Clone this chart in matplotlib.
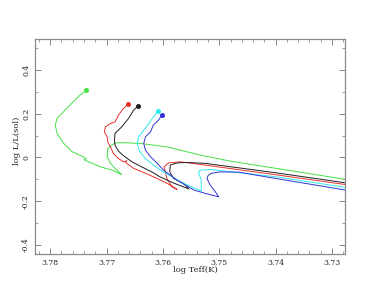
import matplotlib
matplotlib.use("Agg")
import matplotlib.pyplot as plt
from matplotlib.ticker import MultipleLocator, FixedLocator

# ---------------- data (log Teff, log L/Lsun) ----------------
green_x = [3.7736, 3.7747, 3.7768, 3.7788, 3.7791, 3.7788, 3.7776, 3.7761, 3.7744, 3.7736,
           3.7740, 3.7732, 3.7711, 3.7690, 3.7673, 3.7685, 3.7693, 3.7699, 3.7698, 3.7690,
           3.7682, 3.7667, 3.7640, 3.7593, 3.7534, 3.7480, 3.7276, 3.7200]
green_y = [0.306, 0.285, 0.231, 0.178, 0.148, 0.110, 0.064, 0.026, 0.006, -0.005,
           -0.010, -0.020, -0.043, -0.058, -0.078, -0.050, -0.027, 0.003, 0.041, 0.059,
           0.067, 0.067, 0.064, 0.048, 0.011, -0.017, -0.100, -0.131]

red_x = [3.7662, 3.7670, 3.7679, 3.7685, 3.7693, 3.7702, 3.7704, 3.7699, 3.7698, 3.7693,
         3.7688, 3.7679, 3.7670, 3.7664, 3.7666, 3.7652, 3.7631, 3.7608, 3.7590, 3.7575,
         3.7584, 3.7593, 3.7598, 3.7590, 3.7569, 3.7525, 3.7400, 3.7276, 3.7200]
red_y = [0.243, 0.224, 0.193, 0.163, 0.155, 0.140, 0.117, 0.094, 0.071, 0.048,
         0.018, -0.005, -0.020, -0.015, -0.024, -0.050, -0.072, -0.099, -0.122, -0.146,
         -0.134, -0.096, -0.043, -0.025, -0.020, -0.035, -0.079, -0.124, -0.152]

black_x = [3.7644, 3.7652, 3.7661, 3.7673, 3.7685, 3.7686, 3.7685, 3.7679, 3.7670, 3.7655,
           3.7637, 3.7619, 3.7605, 3.7581, 3.7554, 3.7563, 3.7581, 3.7588, 3.7587, 3.7575,
           3.7557, 3.7525, 3.7400, 3.7276, 3.7200]
black_y = [0.236, 0.216, 0.178, 0.140, 0.110, 0.079, 0.056, 0.029, 0.008, -0.020,
           -0.044, -0.067, -0.089, -0.117, -0.144, -0.119, -0.096, -0.066, -0.035, -0.025,
           -0.023, -0.027, -0.070, -0.116, -0.144]

cyan_x = [3.7608, 3.7617, 3.7625, 3.7634, 3.7643, 3.7646, 3.7641, 3.7631, 3.7617, 3.7599,
          3.7581, 3.7569, 3.7551, 3.7532, 3.7532, 3.7537, 3.7534, 3.7516, 3.7400, 3.7276, 3.7200]
cyan_y = [0.213, 0.185, 0.155, 0.125, 0.094, 0.064, 0.026, -0.005, -0.035, -0.067,
          -0.092, -0.111, -0.133, -0.153, -0.104, -0.067, -0.058, -0.055, -0.088, -0.137, -0.167]

blue_x = [3.7602, 3.7608, 3.7617, 3.7622, 3.7631, 3.7634, 3.7631, 3.7622, 3.7610, 3.7599,
          3.7575, 3.7545, 3.7525, 3.7501, 3.7507, 3.7516, 3.7522, 3.7520, 3.7514, 3.7498,
          3.7466, 3.7400, 3.7276, 3.7200]
blue_y = [0.193, 0.170, 0.148, 0.117, 0.094, 0.064, 0.033, 0.003, -0.027, -0.058,
          -0.104, -0.149, -0.164, -0.180, -0.157, -0.127, -0.096, -0.083, -0.072, -0.066,
          -0.067, -0.096, -0.149, -0.182]

tracks = [
    (green_x, green_y, "#44e044"),
    (red_x, red_y, "#e83030"),
    (black_x, black_y, "#202020"),
    (cyan_x, cyan_y, "#30e8f0"),
    (blue_x, blue_y, "#3434d8"),
]

xticks = [3.78, 3.77, 3.76, 3.75, 3.74, 3.73]
yticks = [-0.4, -0.2, 0.0, 0.2, 0.4]
ytick_labels = ["-0.4", "-0.2", "0", "0.2", "0.4"]

# ---------------- figure ----------------
plt.rcParams["font.family"] = ["DejaVu Serif"]
fig = plt.figure(figsize=(3.81, 2.94), dpi=100)
ax = fig.add_axes([35 / 381, 1 - 254 / 294, 310 / 381, 215 / 294])

for xs, ys, c in tracks:
    ax.plot(xs, ys, color=c, lw=0.7, solid_joinstyle="round")
    ax.plot(xs[0], ys[0], "o", color=c, ms=2.6, mec=c)

ax.set_xlim(3.7827, 3.7277)
ax.set_ylim(-0.441, 0.541)

ax.xaxis.set_major_locator(FixedLocator(xticks))
ax.xaxis.set_minor_locator(MultipleLocator(0.002))
ax.set_xticklabels([f"{v:.2f}" for v in xticks])
ax.yaxis.set_major_locator(FixedLocator(yticks))
ax.yaxis.set_minor_locator(MultipleLocator(0.1))
ax.set_yticklabels(ytick_labels, rotation=90, va="center")

frame_c = "#8a8a8a"
for s in ax.spines.values():
    s.set_color(frame_c)
    s.set_linewidth(0.9)
ax.tick_params(which="both", direction="in", top=True, right=True, color=frame_c,
               labelsize=5.5, labelcolor="#222222")
ax.tick_params(which="major", length=4, width=0.7, pad=3.5)
ax.tick_params(which="minor", length=2, width=0.6)

fig.text(195 / 381, 1 - 270 / 294, "log Teff(K)", ha="center", va="center",
         fontsize=6, color="#222222")
fig.text(17 / 381, 1 - 141 / 294, "log L/L(sol)", ha="center", va="center",
         rotation=90, fontsize=6, color="#222222")

fig.savefig("out.png", dpi=100)
